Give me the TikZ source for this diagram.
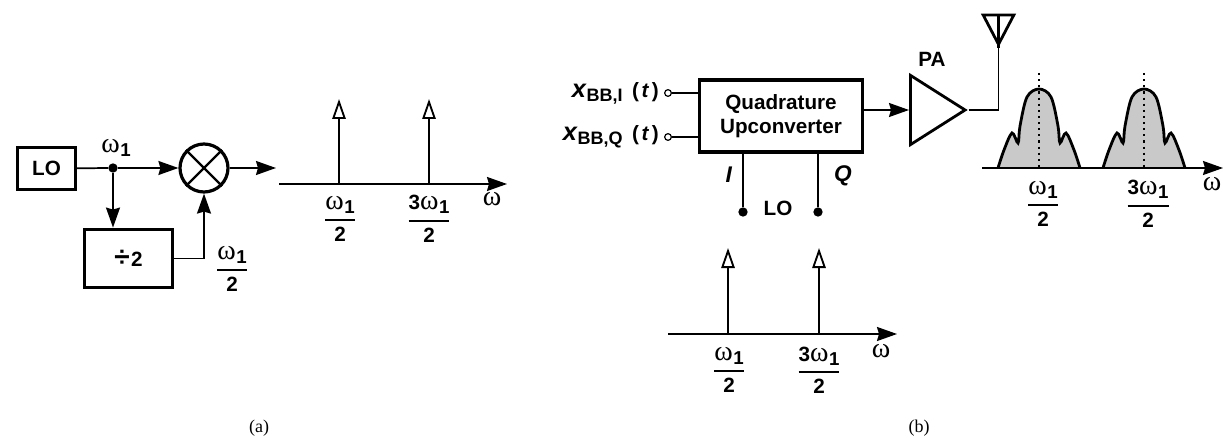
\documentclass[tikz,border=0pt]{standalone}
\usepackage{amsmath}
\usepackage{fontspec}
\setmainfont{Liberation Sans}
\newfontfamily\greekfont{Liberation Serif}
\usetikzlibrary{arrows.meta,positioning,shapes.geometric,calc}

\newcommand{\wsym}{{\greekfont\mdseries\fontsize{21}{21}\selectfont ω}}
\newcommand{\wone}{\wsym\hspace{0.5pt}\raisebox{-3pt}{\fontsize{14}{14}\selectfont 1}}
\newcommand{\wfrac}[1]{$\genfrac{}{}{1.5pt}{0}{\mbox{\bfseries #1}}{\mbox{\bfseries 2}}$}

\tikzset{
    txt/.style={inner sep=0pt, font=\fontsize{15.5}{18}\selectfont\bfseries, align=center},
    blockbox/.style={rectangle, draw, line width=2.4pt, font=\fontsize{15.5}{18}\selectfont\bfseries, align=center},
    dotnode/.style={circle, fill=black, inner sep=0pt, minimum size=7pt},
    portnode/.style={circle, draw, fill=white, line width=0.9pt, inner sep=0pt, minimum size=5pt},
    wire/.style={line width=1.3pt},
    sigarrow/.style={-{Stealth[length=15pt,width=10.5pt,inset=1.5pt]}, line width=1.3pt},
    impulse/.style={-{Triangle[open,length=15pt,width=10pt,fill=white,line width=1.4pt]}, line width=2pt},
}

\begin{document}
\begin{tikzpicture}[x=0.75pt, y=-0.75pt]
    \useasboundingbox (0,0) rectangle (1223,438);

    % part (a)
    \node [blockbox, minimum width=43pt, minimum height=32pt] (lo) at (46.5,168.5) {LO};
    \node [dotnode] (tap) at (113,168) {};
    \node [circle, draw, line width=2.4pt, minimum size=36pt, inner sep=0pt] (mixer) at (204,168) {};
    \node [blockbox, minimum width=66pt, minimum height=44pt] (divider) at (128.5,258.5) {{\fontsize{21}{18}\selectfont ÷}\hspace{1pt}2};
    \coordinate (mixerout) at (276,168);
    \coordinate [right=22.5pt of divider.east] (bend);
    \node [txt] (wtap) at (116,148) {\wone};
    \node [txt] (wdiv) at (232,269) {\wfrac{\wone}};

    \draw [wire] (lo) -- (tap);
    \draw [sigarrow] (tap) -- (mixer);
    \draw [sigarrow] (tap) -- (tap |- divider.north);
    \draw [sigarrow] (mixer) -- (mixerout);
    \draw [wire] (divider.east) -- (bend -| mixer);
    \draw [sigarrow] (bend -| mixer) -- (mixer);
    \draw [line width=1.7pt] (mixer.45) -- (mixer.225) (mixer.135) -- (mixer.315);

    \coordinate (axisa) at (279,184);
    \coordinate (axisaend) at (507,184);
    \coordinate (impa) at (339,99);
    \coordinate (impb) at (429,99);
    \draw [sigarrow] (axisa) -- (axisaend);
    \draw [impulse] (impa |- axisa) -- (impa);
    \draw [impulse] (impb |- axisa) -- (impb);
    \node [txt] (wa) at (340,219) {\wfrac{\wone}};
    \node [txt] (wb) at (429,219) {\wfrac{3\wone}};
    \node [txt] (wax) at (492,199) {\wsym};
    \node [font=\fontsize{13.5}{16}\selectfont\greekfont, inner sep=0pt] (capa) at (259,428) {(a)};

    % part (b)
    \node [blockbox, minimum width=122pt, minimum height=54pt] (upconv) at (781,116) {Quadrature\\Upconverter};
    \node [portnode] (ini) at (668,93) {};
    \node [portnode] (inq) at (668,137) {};
    \node [txt, anchor=east] (xi) at (659,93) {{\fontsize{19}{19}\selectfont\textit{x}}\raisebox{-3pt}{\fontsize{13.5}{13}\selectfont BB,I}\hspace{7pt}(\hspace{2pt}\textit{t}\hspace{2pt})};
    \node [txt, anchor=east] (xq) at (659,137) {{\fontsize{19}{19}\selectfont\textit{x}}\raisebox{-3pt}{\fontsize{13.5}{13}\selectfont BB,Q}\hspace{7pt}(\hspace{2pt}\textit{t}\hspace{2pt})};
    \draw [wire] (ini) -- (ini -| upconv.west);
    \draw [wire] (inq) -- (inq -| upconv.west);

    \node [isosceles triangle, isosceles triangle stretches, draw, line width=2.1pt, shape border rotate=0, inner sep=0pt, minimum width=52pt, minimum height=41pt, anchor=lower side] (pa) at (909,110) {};
    \node [txt] (palabel) at (932,59) {PA};
    \draw [sigarrow] (upconv.east |- pa.apex) -- (pa.apex -| pa.lower side);

    \node [isosceles triangle, isosceles triangle stretches, draw, line width=2.1pt, shape border rotate=-90, inner sep=0pt, minimum width=23pt, minimum height=22pt, anchor=apex] (antenna) at (998.5,48) {};
    \coordinate (antcorner) at (antenna.apex |- pa.apex);
    \draw [wire] (pa.apex) -- (antcorner) -- (antenna.apex);
    \draw [line width=1.8pt] (antenna.apex) -- (antenna.lower side);

    \node [dotnode] (loi) at (743,212) {};
    \node [dotnode] (loq) at (818,212) {};
    \draw [wire] (loi) -- (loi |- upconv.south);
    \draw [wire] (loq) -- (loq |- upconv.south);
    \node [txt] (ilabel) at (729,175) {\fontsize{17}{17}\selectfont\textit{I}};
    \node [txt] (qlabel) at (843,176) {\fontsize{17}{17}\selectfont\textit{Q}};
    \node [txt] (lolabel) at (778,208) {LO};

    % output spectrum
    \foreach \cx in {1039,1144} {
        \fill [gray!42] plot [smooth, tension=0.55] coordinates {(\cx-41,168) (\cx-35,150) (\cx-27,133) (\cx-21,143) (\cx-19,126) (\cx-12,97) (\cx,89) (\cx+12,97) (\cx+19,126) (\cx+21,143) (\cx+27,133) (\cx+35,150) (\cx+41,168)};
        \draw [line width=2.1pt] plot [smooth, tension=0.55] coordinates {(\cx-41,168) (\cx-35,150) (\cx-27,133) (\cx-21,143) (\cx-19,126) (\cx-12,97) (\cx,89) (\cx+12,97) (\cx+19,126) (\cx+21,143) (\cx+27,133) (\cx+35,150) (\cx+41,168)};
        \draw [line width=1.4pt, dash pattern=on 1.6pt off 3pt] (\cx,73) -- (\cx,168);
    }
    \coordinate (axisc) at (982,168);
    \coordinate (axiscend) at (1223,168);
    \draw [sigarrow] (axisc) -- (axiscend);
    \node [txt] (wc) at (1043,204) {\wfrac{\wone}};
    \node [txt] (wd) at (1148,204) {\wfrac{3\wone}};
    \node [txt] (wcx) at (1212,184) {\wsym};

    % LO spectrum
    \coordinate (axisb) at (668,334);
    \coordinate (axisbend) at (897,334);
    \coordinate (impc) at (728,248);
    \coordinate (impd) at (819,248);
    \draw [sigarrow] (axisb) -- (axisbend);
    \draw [impulse] (impc |- axisb) -- (impc);
    \draw [impulse] (impd |- axisb) -- (impd);
    \node [txt] (we) at (729,370) {\wfrac{\wone}};
    \node [txt] (wf) at (819,370) {\wfrac{3\wone}};
    \node [txt] (wbx) at (881,351) {\wsym};
    \node [font=\fontsize{13.5}{16}\selectfont\greekfont, inner sep=0pt] (capb) at (919,428) {(b)};
\end{tikzpicture}
\end{document}
